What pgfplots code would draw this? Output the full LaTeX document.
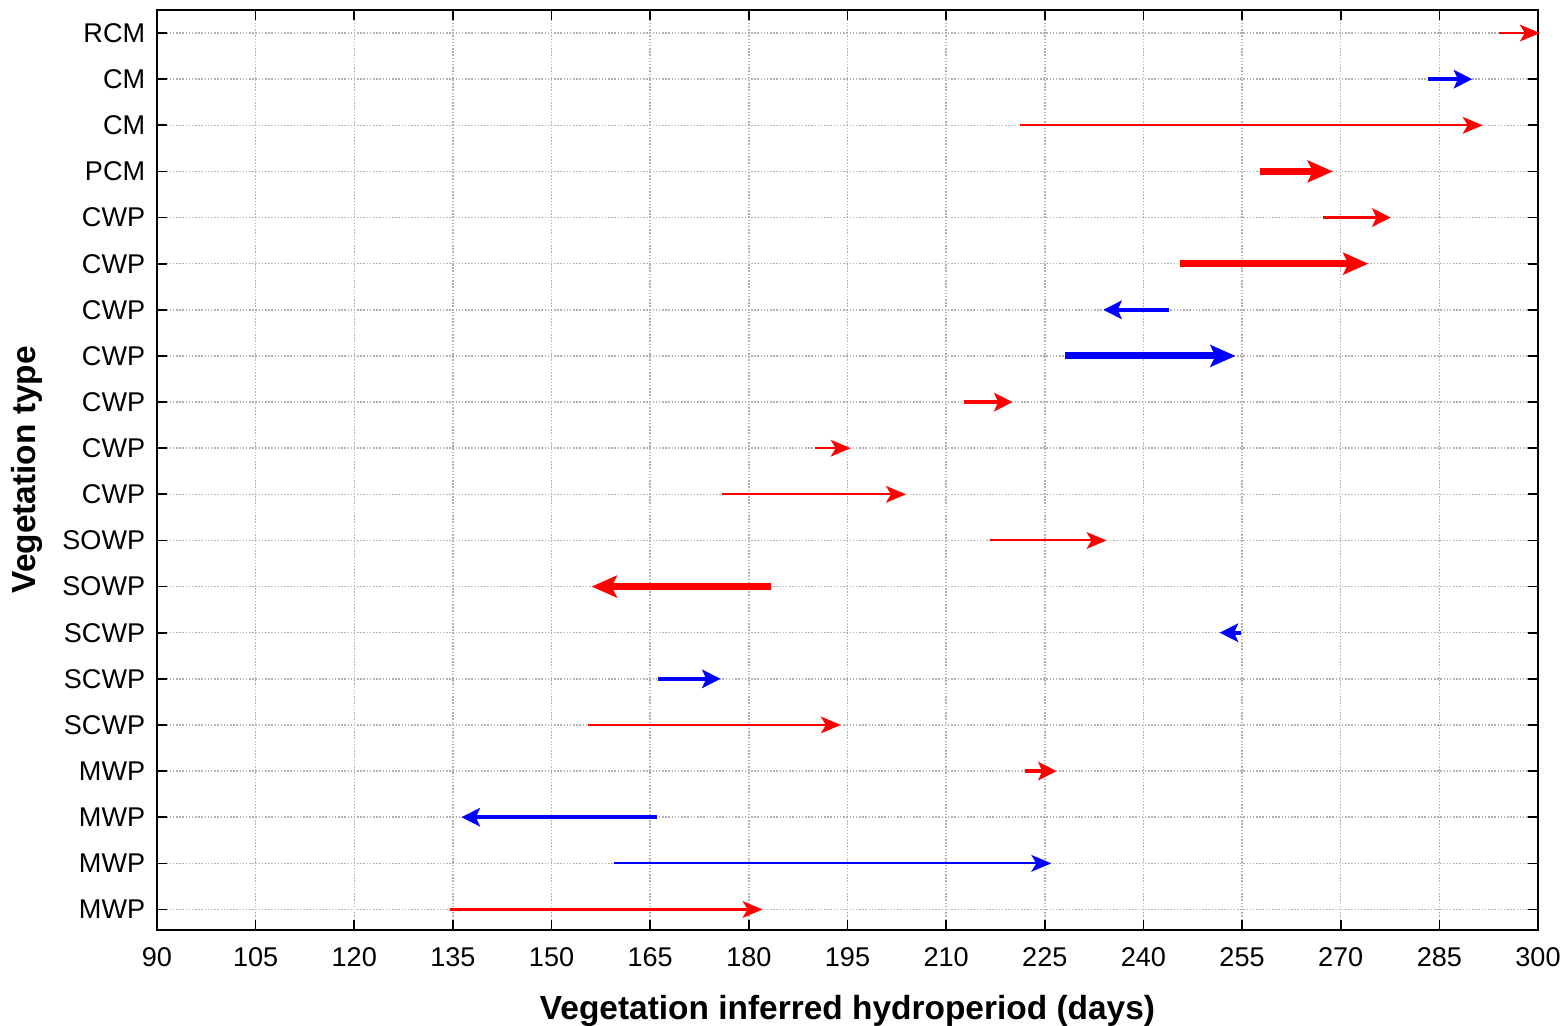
\documentclass[border=0pt]{standalone}
\usepackage{pgfplots}
\pgfplotsset{compat=1.18}
\usepackage{fontspec}
\setmainfont{Liberation Sans}
\usetikzlibrary{arrows.meta}
\definecolor{pr}{RGB}{255,0,0}
\definecolor{pb}{RGB}{0,0,255}
\tikzset{
  thinA/.style={line width=0.62pt, -{Stealth[length=6pt,width=5pt,inset=1.5pt]}},
  midA/.style={line width=1.2pt, -{Stealth[length=5.5pt,width=5.5pt,inset=1.2pt]}},
  thickA/.style={line width=2.1pt, -{Stealth[length=7.5pt,width=6.5pt,inset=1.5pt]}},
}
\begin{document}
\begin{tikzpicture}
\begin{axis}[
  scale only axis, width=413pt, height=275pt,
  xmin=90, xmax=300, ymin=0.565, ymax=20.5,
  xtick={90,105,...,300},
  ytick={1,...,20},
  yticklabels={MWP,MWP,MWP,MWP,SCWP,SCWP,SCWP,SOWP,SOWP,CWP,CWP,CWP,CWP,CWP,CWP,CWP,PCM,CM,CM,RCM},
  grid=major,
  major grid style={dash pattern=on 0.45pt off 0.5pt, line width=0.45pt, black!30},
  tick align=inside,
  major tick length=3pt,
  axis line style={line width=0.6pt},
  tick style={black, line width=0.5pt},
  tick label style={font=\fontsize{8.1}{10}\selectfont},
  xticklabel style={yshift=-2pt},
  label style={font=\bfseries\fontsize{10}{12}\selectfont},
  /pgf/number format/assume math mode=true,
  xlabel={Vegetation inferred hydroperiod (days)},
  ylabel={Vegetation type},
  xlabel style={yshift=-1.5pt},
  ylabel style={yshift=-1pt},
  clip=false,
]
% row 20 RCM
\addplot[pr, thinA] coordinates {(294.1,20) (300.3,20)};
% row 19 CM
\addplot[pb, midA] coordinates {(283.2,19) (290.0,19)};
% row 18 CM
\addplot[pr, thinA] coordinates {(221.2,18) (291.6,18)};
% row 17 PCM
\addplot[pr, thickA] coordinates {(257.7,17) (268.8,17)};
% row 16 CWP
\addplot[pr, line width=1.0pt, -{Stealth[length=5.5pt,width=5.5pt,inset=1.2pt]}] coordinates {(267.3,16) (277.6,16)};
% row 15 CWP
\addplot[pr, thickA] coordinates {(245.6,15) (274.2,15)};
% row 14 CWP
\addplot[pb, midA] coordinates {(243.9,14) (233.9,14)};
% row 13 CWP
\addplot[pb, thickA] coordinates {(228.1,13) (254.0,13)};
% row 12 CWP
\addplot[pr, midA] coordinates {(212.7,12) (220.1,12)};
% row 11 CWP
\addplot[pr, thinA] coordinates {(190.1,11) (195.5,11)};
% row 10 CWP
\addplot[pr, thinA] coordinates {(175.9,10) (203.9,10)};
% row 9 SOWP
\addplot[pr, thinA] coordinates {(216.7,9) (234.4,9)};
% row 8 SOWP
\addplot[pr, thickA] coordinates {(183.3,8) (156.1,8)};
% row 7 SCWP
\addplot[pb, midA] coordinates {(254.9,7) (251.6,7)};
% row 6 SCWP
\addplot[pb, midA] coordinates {(166.2,6) (175.7,6)};
% row 5 SCWP
\addplot[pr, thinA] coordinates {(155.6,5) (194.0,5)};
% row 4 MWP
\addplot[pr, midA] coordinates {(222.0,4) (226.8,4)};
% row 3 MWP
\addplot[pb, midA] coordinates {(166.1,3) (136.3,3)};
% row 2 MWP
\addplot[pb, thinA] coordinates {(159.5,2) (226.0,2)};
% row 1 MWP
\addplot[pr, thinA] coordinates {(134.5,1) (182.1,1)};
\end{axis}
\pgfresetboundingbox
\path ([shift={(-46.95pt,-28.7pt)}]current axis.south west) rectangle ([shift={(8.97pt,2.99pt)}]current axis.north east);
\end{tikzpicture}
\end{document}
